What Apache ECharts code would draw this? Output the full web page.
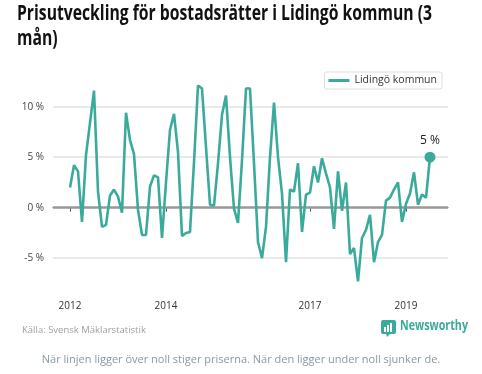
<!DOCTYPE html>
<html><head><meta charset="utf-8">
<script src="https://cdn.jsdelivr.net/npm/echarts@6/dist/echarts.min.js"></script>
<style>html,body{margin:0;padding:0;background:#fff}#c{width:482px;height:374px}</style>
</head><body><div id="c"></div>
<script>
// Monthly values, month index 0 = Jan 2012
const seriesName = 'Lidingö kommun';
const values = [
  2.0, 4.2, 3.6, -1.4, 5.2, 8.4, 11.6, 1.6, -1.9, -1.7, 1.2, 1.8,
  1.1, -0.5, 9.4, 6.7, 5.3, -0.2, -2.7, -2.7, 2.1, 3.2, 3.0, -3.0,
  2.5, 7.7, 9.3, 5.5, -2.8, -2.5, -2.4, 4.5, 12.1, 11.8, 6.0, 0.3,
  0.2, 4.4, 9.2, 11.1, 5.0, -0.1, -1.5, 4.7, 11.8, 11.8, 4.4, -3.4,
  -5.0, -1.9, 5.0, 10.4, 5.0, 1.4, -5.4, 1.8, 1.6, 4.4, -2.4, 1.3,
  1.5, 4.1, 2.5, 4.9, 3.4, 2.0, -2.1, 3.6, -0.3, 2.5, -4.6, -4.0,
  -7.3, -3.0, -2.2, -0.7, -5.4, -3.4, -2.7, 0.7, 1.0, 1.8, 2.5, -1.4,
  0.4, 1.4, 3.5, 0.3, 1.3, 1.0, 5.0
];
const tickMonths = [0, 24, 60, 84];
const tickLabels = ['2012', '2014', '2017', '2019'];
const yTicks = [-5, 0, 5, 10];
const gridValues = [10, 5, -5];
const zeroValue = 0;

const titleLine1 = 'Prisutveckling för bostadsrätter i Lidingö kommun (3';
const titleLine2 = 'mån)';

const teal = '#3aab9b';
const lineData = values.map((v, i) => [i, v]);
const lastIdx = values.length - 1;

function textWidth(t, font) {
  const c = document.createElement('canvas').getContext('2d');
  c.font = font;
  return c.measureText(t).width;
}
const titleFont = 'bold 21px "Open Sans"';
const titleScale = 415 / textWidth(titleLine1, titleFont);
const nwFont = 'bold 15px "Open Sans"';
const nwScale = 68 / textWidth('Newsworthy', nwFont);

const chart = echarts.init(document.getElementById('c'), null, {renderer: 'canvas'});
chart.setOption({
  backgroundColor: '#fff',
  animation: false,
  legend: {
    data: [seriesName],
    right: 40, top: 72,
    icon: 'rect', itemWidth: 21, itemHeight: 3, itemGap: 6,
    padding: [3, 5, 3, 4],
    borderColor: '#ddd', borderWidth: 1, borderRadius: 2,
    textStyle: {fontFamily: 'Open Sans', fontSize: 10.5, color: '#333'}
  },
  grid: {left: 53, right: 34, top: 81, bottom: 81, containLabel: false},
  xAxis: {
    type: 'value', min: -4.25, max: 94.5,
    axisLine: {show: true, lineStyle: {color: '#555', width: 1}},
    axisTick: {show: true, customValues: tickMonths, length: 4, lineStyle: {color: '#555'}},
    axisLabel: {
      show: true, customValues: tickMonths, margin: 8,
      fontFamily: 'Open Sans', fontSize: 10, color: '#333',
      formatter: v => tickLabels[tickMonths.indexOf(Math.round(v))] || ''
    },
    splitLine: {show: false}
  },
  yAxis: {
    type: 'value', min: -8.45, max: 12.55,
    axisLine: {show: false}, axisTick: {show: false},
    axisLabel: {
      show: true, customValues: yTicks, margin: 9,
      fontFamily: 'Open Sans', fontSize: 10, color: '#444',
      formatter: v => Math.round(v) + ' %'
    },
    splitLine: {show: false}
  },
  series: [
    {
      name: 'grid', type: 'line', data: [], z: 1, silent: true,
      markLine: {
        silent: true, symbol: 'none', label: {show: false},
        data: gridValues.map(g => ({yAxis: g, lineStyle: {color: '#e3e3e3', width: 1.5, type: 'solid'}}))
          .concat([{yAxis: zeroValue, lineStyle: {color: '#999', width: 2.5, type: 'solid'}}])
      }
    },
    {
      name: seriesName, type: 'line', data: lineData, z: 5,
      showSymbol: false, symbol: 'none',
      lineStyle: {color: teal, width: 2.6},
      itemStyle: {color: teal}
    },
    {
      name: 'end', type: 'scatter', z: 6,
      data: [[lastIdx, values[lastIdx]]],
      symbolSize: 11, itemStyle: {color: teal, opacity: 1},
      label: {show: true, position: 'top', distance: 5, formatter: p => Math.round(p.value[1]) + ' %',
        fontFamily: 'Open Sans', fontSize: 12, color: '#222'}
    }
  ],
  graphic: [
    {type: 'text', x: 17, y: 2, scaleX: titleScale, style: {text: titleLine1 + '\n' + titleLine2, font: titleFont, fill: '#111', lineHeight: 25}},
    {type: 'text', left: 22, top: 325, style: {text: 'Källa: Svensk Mäklarstatistik', fontFamily: 'Open Sans', fontSize: 9.5, fill: '#a0a0a0'}},
    {type: 'group', left: 381, top: 320, children: [
      {type: 'rect', shape: {x: 0, y: 0, width: 15, height: 14, r: 2}, style: {fill: teal}},
      {type: 'polygon', shape: {points: [[5, 13], [10, 13], [6, 17]]}, style: {fill: teal}},
      {type: 'rect', shape: {x: 3, y: 7, width: 2, height: 5}, style: {fill: '#fff'}},
      {type: 'rect', shape: {x: 6, y: 5, width: 2, height: 7}, style: {fill: '#fff'}},
      {type: 'rect', shape: {x: 9, y: 3, width: 2, height: 9}, style: {fill: '#fff'}}
    ]},
    {type: 'text', x: 400, y: 318, scaleX: nwScale, style: {text: 'Newsworthy', font: nwFont, fill: teal}},
    {type: 'text', left: 'center', top: 354, style: {text: 'När linjen ligger över noll stiger priserna. När den ligger under noll sjunker de.', fontFamily: 'Open Sans', fontSize: 11, fill: '#8a99a3'}}
  ]
});
</script>
</body></html>
